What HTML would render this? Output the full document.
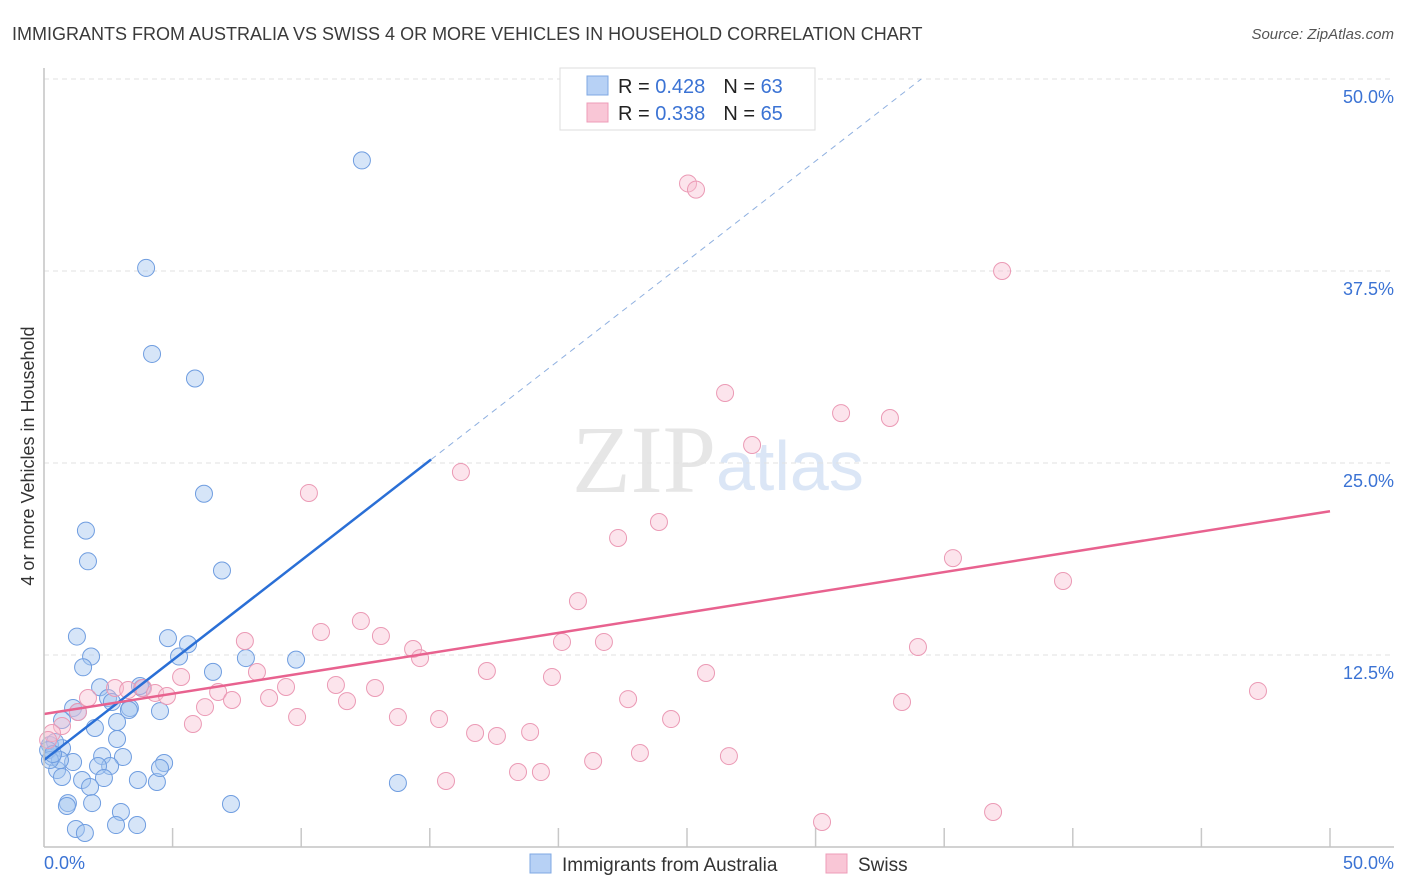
<!DOCTYPE html>
<html><head><meta charset="utf-8"><style>
body{margin:0;background:#fff;font-family:"Liberation Sans",sans-serif;}
#wrap{position:relative;width:1406px;height:892px;overflow:hidden;}
</style></head><body>
<div id="wrap">
<svg id="svg" width="1406" height="892" xmlns="http://www.w3.org/2000/svg">
<text x="12" y="40" font-size="18" fill="#3a3a3a">IMMIGRANTS FROM AUSTRALIA VS SWISS 4 OR MORE VEHICLES IN HOUSEHOLD CORRELATION CHART</text>
<text x="1394" y="39" font-size="15" fill="#555" font-style="italic" text-anchor="end">Source: ZipAtlas.com</text>
<text x="716" y="492" font-size="96" fill="#e6e6e6" text-anchor="end" font-family="Liberation Serif,serif">ZIP</text>
<text x="716" y="490" font-size="70" fill="#dbe6f6">atlas</text>
<text transform="translate(34,456) rotate(-90)" font-size="18" fill="#333" text-anchor="middle">4 or more Vehicles in Household</text>
<g id="grid"></g><g id="pts"></g><g id="lines"></g>
<line x1="44" y1="68" x2="44" y2="847" stroke="#c4c4c4" stroke-width="1.5"/>
<line x1="44" y1="847" x2="1394" y2="847" stroke="#c4c4c4" stroke-width="1.5"/>
<text x="44" y="869" font-size="18" fill="#3b73d4">0.0%</text>
<text x="1394" y="869" font-size="18" fill="#3b73d4" text-anchor="end">50.0%</text>
<g>
<rect x="560" y="68" width="255" height="62" fill="#fff" stroke="#ddd"/>
<rect x="587" y="76" width="21" height="19" fill="#b7d1f5" stroke="#7fa8e3"/>
<rect x="587" y="103" width="21" height="19" fill="#f9c6d6" stroke="#ee9cb8"/>
<text x="618" y="93" font-size="20" fill="#222">R = <tspan fill="#3b73d4">0.428</tspan><tspan dx="18">N = </tspan><tspan fill="#3b73d4">63</tspan></text>
<text x="618" y="120" font-size="20" fill="#222">R = <tspan fill="#3b73d4">0.338</tspan><tspan dx="18">N = </tspan><tspan fill="#3b73d4">65</tspan></text>
</g>
<rect x="530" y="854" width="21" height="19" fill="#b7d1f5" stroke="#7fa8e3"/>
<text x="562" y="871" font-size="19" fill="#333">Immigrants from Australia</text>
<rect x="826" y="854" width="21" height="19" fill="#f9c6d6" stroke="#ee9cb8"/>
<text x="858" y="871" font-size="19" fill="#333">Swiss</text>
</svg>
</div>
<script>
const yTicks=[12.5,25,37.5,50];
const yTickLabels=["12.5%","25.0%","37.5%","50.0%"];
const xTicks=[5,10,15,20,25,30,35,40,45,50];
const blueX=[12.36,3.97,4.2,5.87,6.22,6.92,1.63,1.71,1.28,4.82,1.83,1.52,5.25,5.6,6.57,7.85,9.8,2.18,3.81,2.49,2.64,2.84,1.98,1.13,1.32,0.7,4.51,3.34,2.84,2.26,3.07,2.57,2.1,1.13,0.7,0.23,0.31,0.51,0.7,1.48,2.33,3.65,4.39,4.67,4.51,1.79,0.93,0.89,1.87,2.99,3.62,2.8,1.24,1.59,7.27,13.76,0.43,0.16,0.62,0.23,0.35,3.3,3.73];
const blueY=[44.7,37.7,32.1,30.5,23.0,18.0,20.6,18.6,13.7,13.6,12.4,11.7,12.4,13.2,11.4,12.3,12.2,10.4,10.35,9.7,9.44,8.14,7.75,9.05,8.79,8.27,8.85,9.05,7.03,5.92,5.86,5.27,5.27,5.53,6.44,6.64,5.86,5.01,4.56,4.36,4.49,4.36,4.23,5.47,5.14,3.91,2.86,2.67,2.86,2.28,1.43,1.43,1.17,0.91,2.8,4.17,6.84,6.31,5.66,5.66,6.05,8.92,10.48];
const pinkX=[25.04,25.35,37.25,26.48,30.99,32.89,27.53,16.21,10.3,23.91,22.32,35.34,39.62,20.76,12.32,10.77,13.1,7.81,14.35,14.62,20.14,21.77,33.98,17.22,25.74,8.28,5.33,11.35,9.41,19.75,47.2,2.76,3.27,3.85,4.32,4.78,6.77,8.75,12.87,11.78,7.31,6.26,22.71,33.36,5.79,9.84,13.76,15.36,24.38,16.76,17.61,18.9,1.71,1.32,0.7,0.31,23.17,26.63,21.35,18.43,19.32,15.63,30.25,36.9,0.16];
const pinkY=[43.2,42.8,37.5,29.56,28.25,27.93,26.17,24.41,23.05,21.16,20.12,18.81,17.32,16.01,14.71,14.0,13.74,13.41,12.89,12.3,13.35,13.35,13.02,11.46,11.33,11.39,11.07,10.55,10.42,11.07,10.16,10.35,10.22,10.35,10.03,9.83,10.09,9.7,10.35,9.5,9.57,9.11,9.63,9.44,8.01,8.46,8.46,8.33,8.33,7.42,7.23,7.49,9.7,8.79,7.88,7.42,6.12,5.92,5.6,4.88,4.88,4.3,1.63,2.28,6.97];
const blueFit=[5.66,1.30];
const pinkFit=[8.66,0.264];
const NS="http://www.w3.org/2000/svg";
const sx=v=>44+v/50*1286;
const sy=v=>847-v/50*768;
function mk(tag,attrs,parent){const e=document.createElementNS(NS,tag);for(const k in attrs)e.setAttribute(k,attrs[k]);parent.appendChild(e);return e;}
const grid=document.getElementById('grid'),pts=document.getElementById('pts'),lines=document.getElementById('lines'),svg=document.getElementById('svg');
yTicks.forEach((t,i)=>{
 const l=mk('line',{x1:44,x2:1394,y1:sy(t),y2:sy(t),stroke:'#e2e2e2','stroke-dasharray':'5,4'},grid);
 
 
 const tx=mk('text',{x:1394,y:sy(t)+24,'font-size':18,fill:'#3b73d4','text-anchor':'end'},svg);
 tx.textContent=yTickLabels[i];
 
 
});
xTicks.forEach(t=>{
 const l=mk('line',{x1:sx(t),x2:sx(t),y1:828,y2:847,stroke:'#c8c8c8','stroke-width':1.5},grid);
 
 
});
blueX.forEach((x,i)=>{
 const c=mk('circle',{cx:sx(x),cy:sy(blueY[i]),r:8.5,fill:'rgba(165,198,240,0.45)',stroke:'#6f9de0','stroke-width':1},pts);
 
 
});
pinkX.forEach((x,i)=>{
 const c=mk('circle',{cx:sx(x),cy:sy(pinkY[i]),r:8.5,fill:'rgba(248,188,208,0.4)',stroke:'#eb9ab5','stroke-width':1},pts);
 
 
});
const bEnd=15.05, bTop=(50-blueFit[0])/blueFit[1];
const b1=mk('line',{x1:sx(0),y1:sy(blueFit[0]),x2:sx(bEnd),y2:sy(blueFit[0]+blueFit[1]*bEnd),stroke:'#2a6fd6','stroke-width':2.5},lines);


const b2=mk('line',{x1:sx(bEnd),y1:sy(blueFit[0]+blueFit[1]*bEnd),x2:sx(bTop),y2:sy(50),stroke:'#8fb0e0','stroke-width':1,'stroke-dasharray':'6,5'},lines);


const p1=mk('line',{x1:sx(0),y1:sy(pinkFit[0]),x2:sx(50),y2:sy(pinkFit[0]+pinkFit[1]*50),stroke:'#e8628f','stroke-width':2.5},lines);


</script>
</body></html>
